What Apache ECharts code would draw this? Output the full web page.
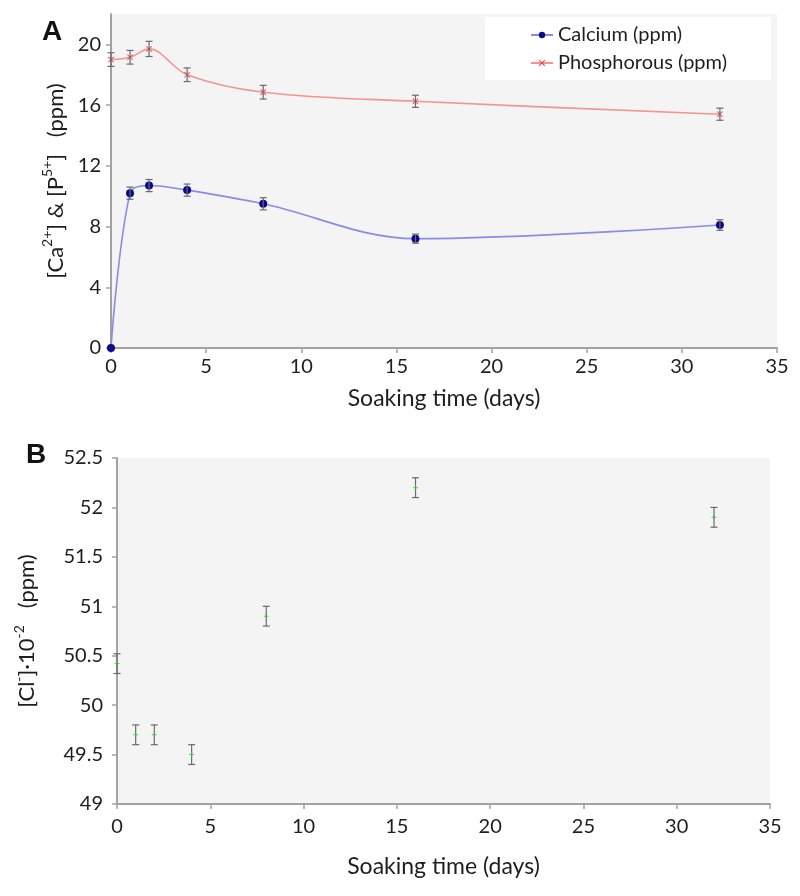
<!DOCTYPE html>
<html>
<head>
<meta charset="utf-8">
<script src="https://cdn.jsdelivr.net/npm/echarts@6/dist/echarts.min.js"></script>
<style>
html,body{margin:0;padding:0;background:#fff;}
#chart{width:800px;height:896px;}
</style>
</head>
<body>
<div id="chart"></div>
<script>
// ---- data ----
const days = [0, 1, 2, 4, 8, 16, 32];
const calcium = [0, 10.2, 10.7, 10.4, 9.5, 7.2, 8.1];
const calciumErr = [0, 0.4, 0.4, 0.4, 0.4, 0.3, 0.35];
const phosphorous = [19.0, 19.15, 19.7, 18.0, 16.85, 16.25, 15.4];
const phosphorousErr = [0.45, 0.45, 0.5, 0.45, 0.45, 0.4, 0.4];
const chloride = [50.42, 49.7, 49.7, 49.5, 50.9, 52.2, 51.9];
const chlorideErr = [0.1, 0.1, 0.1, 0.1, 0.1, 0.1, 0.1];
const xTicks = [0, 5, 10, 15, 20, 25, 30, 35];
const yTicksA = [0, 4, 8, 12, 16, 20];

const FONT = 'Lato';
const TXT = '#1e1e1e';
const AX = '#a3a3a3';

function pairs(xs, ys) { return xs.map((x, i) => [x, ys[i]]); }
function errData(xs, ys, es) { return xs.map((x, i) => [x, ys[i], es[i]]); }

function errRender(capHalf) {
  return function (params, api) {
    const x = api.value(0), y = api.value(1), e = api.value(2);
    if (!e) return null;
    const top = api.coord([x, y + e]);
    const bot = api.coord([x, y - e]);
    const st = { stroke: '#6a6a6a', lineWidth: 1.2 };
    return {
      type: 'group',
      children: [
        { type: 'line', shape: { x1: top[0], y1: top[1], x2: bot[0], y2: bot[1] }, style: st },
        { type: 'line', shape: { x1: top[0] - capHalf, y1: top[1], x2: top[0] + capHalf, y2: top[1] }, style: st },
        { type: 'line', shape: { x1: bot[0] - capHalf, y1: bot[1], x2: bot[0] + capHalf, y2: bot[1] }, style: st }
      ]
    };
  };
}

const xMark = 'path://M0,1L1,0L5,4L9,0L10,1L6,5L10,9L9,10L5,6L1,10L0,9L4,5Z';
const plusMark = 'path://M4,0L6,0L6,4L10,4L10,6L6,6L6,10L4,10L4,6L0,6L0,4L4,4Z';

const axisCommon = {
  axisLine: { show: true, lineStyle: { color: AX, width: 2 } },
  axisTick: { show: true, inside: false, length: 5, lineStyle: { color: AX, width: 1.5 } },
  splitLine: { show: false },
  axisLabel: { color: TXT, fontFamily: FONT, fontSize: 20 }
};

const richName = {
  n: { fontFamily: FONT, fontSize: 22, color: TXT, lineHeight: 26, verticalAlign: 'bottom' },
  s: { fontFamily: FONT, fontSize: 14, color: TXT, lineHeight: 26, verticalAlign: 'top', padding: [0, 0, 3, 0] }
};

const chart = echarts.init(document.getElementById('chart'), null, { renderer: 'canvas' });
chart.setOption({
  backgroundColor: '#fff',
  animation: false,
  textStyle: { fontFamily: FONT },
  grid: [
    { left: 111, top: 14, width: 666, height: 334, show: true, backgroundColor: '#f4f4f4', borderWidth: 0 },
    { left: 117, top: 458, width: 653, height: 346, show: true, backgroundColor: '#f4f4f4', borderWidth: 0 }
  ],
  xAxis: [
    Object.assign({}, axisCommon, {
      gridIndex: 0, type: 'value', min: 0, max: 35, interval: 5,
      axisLabel: Object.assign({}, axisCommon.axisLabel, { margin: 9, customValues: xTicks }),
      axisTick: Object.assign({}, axisCommon.axisTick, { customValues: xTicks }),
      name: 'Soaking time (days)', nameLocation: 'middle', nameGap: 39,
      nameTextStyle: { color: TXT, fontFamily: FONT, fontSize: 23 }
    }),
    Object.assign({}, axisCommon, {
      gridIndex: 1, type: 'value', min: 0, max: 35, interval: 5,
      axisLabel: Object.assign({}, axisCommon.axisLabel, { margin: 13, customValues: xTicks }),
      axisTick: Object.assign({}, axisCommon.axisTick, { customValues: xTicks }),
      name: 'Soaking time (days)', nameLocation: 'middle', nameGap: 51,
      nameTextStyle: { color: TXT, fontFamily: FONT, fontSize: 23 }
    })
  ],
  yAxis: [
    Object.assign({}, axisCommon, {
      gridIndex: 0, type: 'value', min: 0, max: 22, interval: 4,
      axisLabel: Object.assign({}, axisCommon.axisLabel, { margin: 10, customValues: yTicksA }),
      axisTick: Object.assign({}, axisCommon.axisTick, { customValues: yTicksA }),
      name: '{n|[Ca}{s|2+}{n|] & [P}{s|5+}{n|]   (ppm)}', nameLocation: 'middle', nameGap: 41,
      nameTextStyle: { color: TXT, fontFamily: FONT, fontSize: 22, rich: richName }
    }),
    Object.assign({}, axisCommon, {
      gridIndex: 1, type: 'value', min: 49, max: 52.5, interval: 0.5,
      axisLabel: Object.assign({}, axisCommon.axisLabel, { margin: 14 }),
      name: '{n|[Cl}{s|-}{n|]·10}{s|-2}{n|   (ppm)}', nameLocation: 'middle', nameGap: 79,
      nameTextStyle: { color: TXT, fontFamily: FONT, fontSize: 22, rich: richName }
    })
  ],
  legend: {
    data: ['Calcium (ppm)', 'Phosphorous (ppm)'],
    orient: 'vertical', left: 485, top: 17,
    backgroundColor: '#ffffff',
    padding: [8, 44, 7, 45], itemGap: 8,
    itemWidth: 22, itemHeight: 8,
    textStyle: { color: TXT, fontFamily: FONT, fontSize: 20 }
  },
  graphic: [
    { type: 'text', left: 42, top: 18, style: { text: 'A', fontFamily: 'Liberation Sans', fontWeight: 'bold', fontSize: 28, fill: '#111' } },
    { type: 'text', left: 26, top: 441, style: { text: 'B', fontFamily: 'Liberation Sans', fontWeight: 'bold', fontSize: 28, fill: '#111' } }
  ],
  series: [
    {
      name: 'Calcium (ppm)', type: 'line', xAxisIndex: 0, yAxisIndex: 0,
      data: pairs(days, calcium), smooth: 0.35,
      lineStyle: { color: '#8a8ae8', width: 1.6 },
      itemStyle: { color: '#0a0a8c' },
      symbol: 'circle', symbolSize: 8, z: 3
    },
    {
      name: 'Phosphorous (ppm)', type: 'line', xAxisIndex: 0, yAxisIndex: 0,
      data: pairs(days, phosphorous), smooth: 0.35,
      lineStyle: { color: '#f39494', width: 1.6 },
      itemStyle: { color: '#e83a3a' },
      symbol: xMark, symbolSize: 6, z: 3
    },
    {
      type: 'custom', xAxisIndex: 0, yAxisIndex: 0, z: 4, silent: true,
      data: errData(days, calcium, calciumErr), renderItem: errRender(3.5)
    },
    {
      type: 'custom', xAxisIndex: 0, yAxisIndex: 0, z: 4, silent: true,
      data: errData(days, phosphorous, phosphorousErr), renderItem: errRender(3.5)
    },
    {
      type: 'custom', xAxisIndex: 1, yAxisIndex: 1, z: 2, silent: true,
      data: errData(days, chloride, chlorideErr), renderItem: errRender(3.5)
    },
    {
      name: 'Chloride', type: 'scatter', xAxisIndex: 1, yAxisIndex: 1,
      data: pairs(days, chloride),
      symbol: plusMark, symbolSize: 5,
      itemStyle: { color: '#3cbf3c' }, z: 3
    }
  ]
});
</script>
</body>
</html>
